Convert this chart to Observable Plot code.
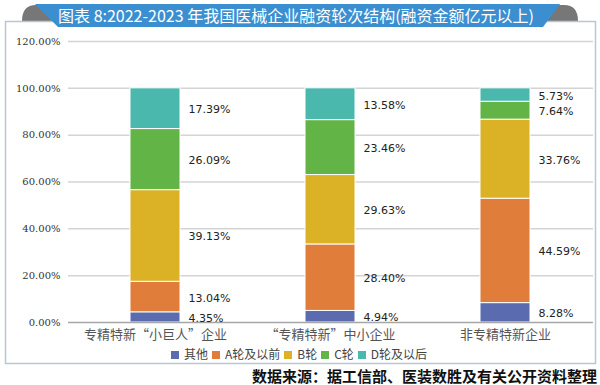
<!DOCTYPE html>
<html>
<head>
<meta charset="utf-8">
<script src="https://cdn.jsdelivr.net/npm/d3@7"></script>
<script src="https://cdn.jsdelivr.net/npm/@observablehq/plot@0.6"></script>
<style>
  html, body { margin: 0; padding: 0; background: #fff; }
  #wrap { position: relative; width: 600px; height: 385px; overflow: hidden; background: #fff; font-family: "Noto Sans CJK SC", sans-serif; }
  #deco { position: absolute; left: 0; top: 0; }
  #title { position: absolute; left: 46px; top: 4px; width: 500px; height: 23px; line-height: 23px; text-align: center; color: #fff; font-size: 16px; white-space: nowrap; }
  #chart { position: absolute; left: 0; top: 30px; }
  #legend { position: absolute; left: 0; top: 345px; width: 598px; text-align: center; font-size: 12px; color: #444; white-space: nowrap; }
  #legend span.item { display: inline-block; margin: 0 2px; }
  #legend span.sw { display: inline-block; width: 8px; height: 8px; margin-right: 5px; vertical-align: 0px; }
  #source { position: absolute; right: 3px; top: 365px; font-size: 15px; font-weight: bold; color: #111; white-space: nowrap; }
</style>
</head>
<body>
<div id="wrap">
  <svg id="deco" width="600" height="385">
    <path d="M22,21 Q22,5 36,5 L60,5 L60,21 Z" fill="#777"/>
    <path d="M540,5 L564,5 Q578,5 578,21 L540,21 Z" fill="#777"/>
    <rect x="5.5" y="21.5" width="590" height="342" fill="#fff" stroke="#b7c8d4" stroke-width="1.5"/>
    <path d="M35,4 L560,4 L543,27 L58,27 Z" fill="#3b8fd1"/>
  </svg>
  <div id="title">图表 8:2022-2023 年我国医械企业融资轮次结构(融资金额亿元以上)</div>
  <div id="chart"></div>
  <div id="legend"></div>
  <div id="source">数据来源：据工信部、医装数胜及有关公开资料整理</div>
</div>
<script>
const categories = ["专精特新“小巨人”企业", "“专精特新”中小企业", "非专精特新企业"];
const seriesNames = ["其他", "A轮及以前", "B轮", "C轮", "D轮及以后"];
const seriesColors = ["#5a6bb0", "#e07d3a", "#dbb226", "#62b446", "#4bb8ad"];
const valOther = [4.35, 4.94, 8.28];
const valA = [13.04, 28.40, 44.59];
const valB = [39.13, 29.63, 33.76];
const valC = [26.09, 23.46, 7.64];
const valD = [17.39, 13.58, 5.73];
const yTicks = [0, 20, 40, 60, 80, 100, 120];

const seriesValues = [valOther, valA, valB, valC, valD];
const rows = [];
seriesNames.forEach((s, si) => {
  categories.forEach((c, ci) => {
    rows.push({cat: c, series: s, value: seriesValues[si][ci]});
  });
});

const chart = Plot.plot({
  width: 596,
  height: 315,
  marginLeft: 68,
  marginRight: 3,
  marginTop: 11,
  marginBottom: 23,
  style: {background: "transparent", overflow: "visible"},
  x: {domain: categories, paddingInner: 0.714, paddingOuter: 0.357, label: null},
  y: {domain: [0, 120], label: null},
  color: {domain: seriesNames, range: seriesColors},
  marks: [
    Plot.gridY(yTicks.slice(1), {stroke: "#d4d4d4", strokeOpacity: 1, strokeWidth: 1.5}),
    Plot.barY(rows, Plot.stackY({x: "cat", y: "value", fill: "series", stroke: "#fff", strokeWidth: 1})),
    Plot.ruleY([0], {stroke: "#a6a6a6", strokeWidth: 1.5}),
    Plot.text(rows, Plot.stackY({x: "cat", y: "value", text: d => d.value.toFixed(2) + "%", dx: 33, dy: 1, textAnchor: "start", fontSize: 11, fill: "#222", fontFamily: "DejaVu Sans"})),
    Plot.axisY({ticks: yTicks, tickSize: 0, tickPadding: 8, tickFormat: d => d.toFixed(2) + "%", fontSize: 10, fontFamily: "DejaVu Serif", fill: "#333"}),
    Plot.axisX({tickSize: 0, tickPadding: 7, fontSize: 13, fontFamily: "Noto Sans CJK SC", fill: "#555"})
  ]
});
document.getElementById("chart").appendChild(chart);

const legend = document.getElementById("legend");
seriesNames.forEach((s, i) => {
  const item = document.createElement("span");
  item.className = "item";
  const sw = document.createElement("span");
  sw.className = "sw";
  sw.style.background = seriesColors[i];
  item.appendChild(sw);
  item.appendChild(document.createTextNode(s));
  legend.appendChild(item);
});
</script>
</body>
</html>
